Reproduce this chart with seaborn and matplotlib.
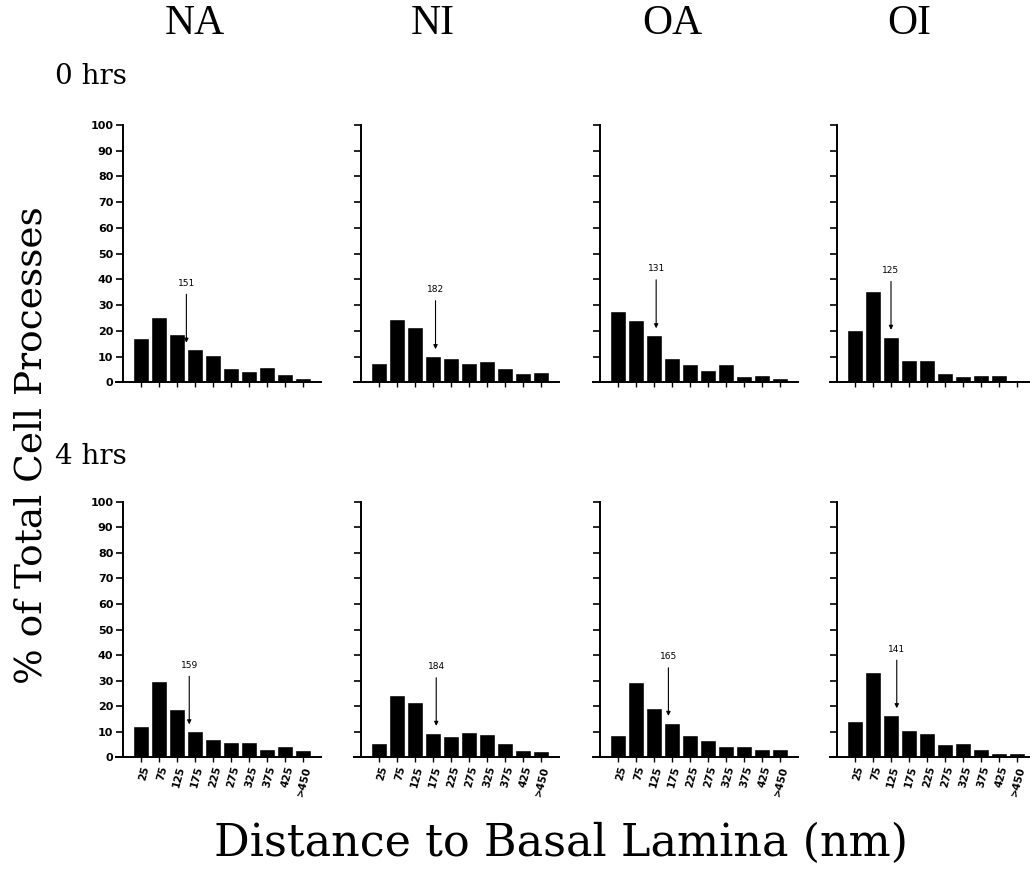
import pandas as pd
import matplotlib.pyplot as plt
import seaborn as sns

groups = ['NA', 'NI', 'OA', 'OI']
times = ['0 hrs', '4 hrs']
distances = ['25', '75', '125', '175', '225', '275', '325', '375', '425', '>450']

# % of total cell processes in each distance bin, one list per panel
na_0 = [17.1, 25.2, 18.7, 12.8, 10.6, 5.7, 4.5, 5.8, 3.1, 1.6]
ni_0 = [7.4, 24.7, 21.4, 10.3, 9.4, 7.6, 8.3, 5.5, 3.5, 4.1]
oa_0 = [27.8, 24.2, 18.4, 9.5, 7.0, 4.7, 7.3, 2.5, 2.7, 1.6]
oi_0 = [20.3, 35.6, 17.8, 8.6, 8.6, 3.8, 2.4, 2.9, 2.9, 0.9]
na_4 = [12.4, 30.0, 18.9, 10.3, 7.0, 6.1, 6.1, 3.3, 4.6, 2.9]
ni_4 = [5.7, 24.3, 21.8, 9.7, 8.4, 10.0, 9.3, 5.7, 2.9, 2.4]
oa_4 = [8.9, 29.3, 19.1, 13.6, 8.9, 6.9, 4.3, 4.3, 3.4, 3.2]
oi_4 = [14.3, 33.2, 16.6, 10.8, 9.4, 5.1, 5.6, 3.4, 1.7, 1.8]

# mean distance (nm) marked with an arrow
means_0 = [151, 182, 131, 125]
means_4 = [159, 184, 165, 141]

panels = {('0 hrs', 'NA'): na_0, ('0 hrs', 'NI'): ni_0, ('0 hrs', 'OA'): oa_0, ('0 hrs', 'OI'): oi_0,
          ('4 hrs', 'NA'): na_4, ('4 hrs', 'NI'): ni_4, ('4 hrs', 'OA'): oa_4, ('4 hrs', 'OI'): oi_4}
means = {'0 hrs': means_0, '4 hrs': means_4}

rows = []
for (t, g), vals in panels.items():
    for d, v in zip(distances, vals):
        rows.append({'time': t, 'group': g, 'distance': d, 'pct': v})
df = pd.DataFrame(rows)

sns.set_style('ticks')
plt.rcParams['font.family'] = ['DejaVu Sans']
for k in ['text.color', 'axes.labelcolor', 'xtick.color', 'ytick.color', 'axes.edgecolor']:
    plt.rcParams[k] = 'black'

W, H = 1030, 877
fig = plt.figure(figsize=(W / 100, H / 100), dpi=100)

yaxis_px = [123, 361, 600, 837]
row_zero_px = [382.3, 757.3]
row_top_px = [125, 501.7]
axw = 205.2

for r, t in enumerate(times):
    for c, g in enumerate(groups):
        left = (yaxis_px[c] - 7.2) / W
        bottom = 1 - row_zero_px[r] / H
        height = (row_zero_px[r] - row_top_px[r]) / H
        ax = fig.add_axes([left, bottom, axw / W, height])
        sub = df[(df['time'] == t) & (df['group'] == g)]
        sns.barplot(data=sub, x='distance', y='pct', order=distances, color='black',
                    saturation=1, width=0.87, ax=ax)
        ax.set_xlim(-1.4, 10)
        ax.set_ylim(0, 100)
        ax.set_yticks(range(0, 101, 10))
        ax.set_xlabel('')
        ax.set_ylabel('')
        sns.despine(ax=ax)
        ax.spines['left'].set_position(('data', -1))
        ax.spines['left'].set_linewidth(1.4)
        ax.spines['bottom'].set_linewidth(1.4)
        ax.tick_params(axis='y', length=5, width=1.2, pad=2)
        ax.tick_params(axis='x', length=3.5, width=1.0, pad=2)
        if c == 0:
            ax.set_yticklabels([str(v) for v in range(0, 101, 10)], fontsize=8, fontweight='bold')
        else:
            ax.set_yticklabels([])
        if r == 1:
            ax.set_xticks(range(len(distances)))
            ax.set_xticklabels(distances, rotation=75, ha='right', va='top',
                               rotation_mode='anchor', fontsize=7.5, fontweight='bold')
        else:
            ax.set_xticklabels([])

        m = means[t][c]
        xm = (m - 25) / 50
        top = sub['pct'].values[int(round(xm))] + 1.5
        ax.annotate('', xy=(xm, top), xytext=(xm, top + 21),
                    arrowprops=dict(arrowstyle='-|>', color='black', lw=0.8, mutation_scale=6))
        ax.text(xm, top + 22.5, str(m), ha='center', va='bottom', fontsize=6.5)

# column titles
for c, g in enumerate(groups):
    fig.text((yaxis_px[c] + 72) / W, 1 - 24 / H, g, ha='center', va='center',
             fontsize=30, family='Liberation Serif')

fig.text(55 / W, 1 - 76 / H, '0 hrs', ha='left', va='center', fontsize=20, family='DejaVu Serif')
fig.text(55 / W, 1 - 456 / H, '4 hrs', ha='left', va='center', fontsize=20, family='DejaVu Serif')

fig.text(32 / W, 1 - 445 / H, '% of Total Cell Processes', rotation=90, ha='center', va='center',
         fontsize=27, family='DejaVu Serif')
fig.text(561 / W, 1 - 843 / H, 'Distance to Basal Lamina (nm)', ha='center', va='center',
         fontsize=32, family='DejaVu Serif')

plt.savefig('out.png', dpi=100)
